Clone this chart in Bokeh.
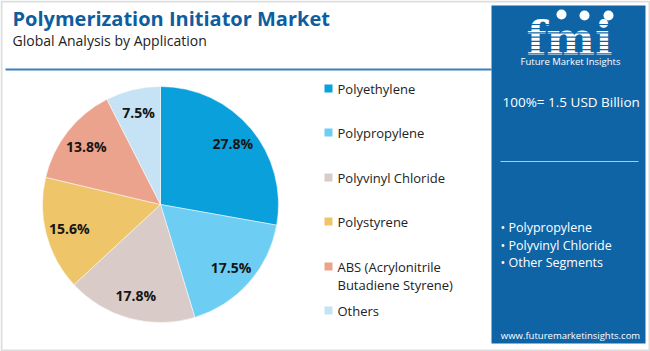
import math
from bokeh.plotting import figure
from bokeh.models import Range1d, ColumnDataSource
from bokeh.core.properties import value
from bokeh.embed import file_html
from bokeh.resources import INLINE

# ---- data ----
categories = ["Polyethylene", "Polypropylene", "Polyvinyl Chloride", "Polystyrene",
              "ABS (Acrylonitrile\nButadiene Styrene)", "Others"]
shares = [27.8, 17.5, 17.8, 15.6, 13.8, 7.5]
colors = ["#0AA0DC", "#6DCDF3", "#D8CBC8", "#EEC569", "#EBA38D", "#C6E2F5"]
title = "Polymerization Initiator Market"
subtitle = "Global Analysis by Application"
total_text = "100%= 1.5 USD Billion"
key_segments = ["Polypropylene", "Polyvinyl Chloride", "Other Segments"]
url = "www.futuremarketinsights.com"

W, H = 650, 351
def Y(y):
    return H - y

FONT = value("Open Sans")

p = figure(width=W, height=H, x_range=Range1d(0, W), y_range=Range1d(0, H),
           output_backend="svg", toolbar_location=None, min_border=0)
p.axis.visible = False
p.grid.visible = False
p.outline_line_color = None
p.background_fill_color = "white"
p.border_fill_color = "white"

# outer light border
p.quad(left=[1], right=[W - 1], bottom=[1], top=[H - 1], fill_color=None,
       line_color="#DDDDDD", line_width=2)

# title
p.text(x=[12], y=[Y(18)], text=[title], text_font=FONT, text_font_style="bold",
       text_font_size="20px", text_color="#0E5D9E", text_baseline="middle")
p.text(x=[12], y=[Y(40)], text=[subtitle], text_font=FONT,
       text_font_size="14px", text_color="#222222", text_baseline="middle")
p.segment(x0=[5], y0=[Y(69)], x1=[491], y1=[Y(69)], line_color="#3D80BE", line_width=2)

# pie
cx, cy, r = 160, Y(204), 118
total = sum(shares)
starts, ends, lx, ly, labels = [], [], [], [], []
cum = 0.0
for s in shares:
    a0 = math.pi / 2 - 2 * math.pi * cum / total
    a1 = math.pi / 2 - 2 * math.pi * (cum + s) / total
    starts.append(a0)
    ends.append(a1)
    mid = (a0 + a1) / 2
    lx.append(cx + 0.8 * r * math.cos(mid))
    ly.append(cy + 0.8 * r * math.sin(mid))
    labels.append(f"{s:.1f}%")
    cum += s
src = ColumnDataSource(dict(start=starts, end=ends, color=colors))
p.wedge(x=cx, y=cy, radius=r, start_angle="start", end_angle="end", direction="clock",
        fill_color="color", line_color="white", line_width=0.5, source=src)
p.text(x=lx, y=ly, text=labels, text_font=FONT, text_font_style="bold",
       text_font_size="14px", text_color="#151515", text_align="center",
       text_baseline="middle")

# legend
leg_y = [88, 132, 177, 221, 266, 310]
for name, col, yy in zip(categories, colors, leg_y):
    p.quad(left=[324], right=[332], bottom=[Y(yy + 4)], top=[Y(yy - 4)],
           fill_color=col, line_color=None)
    lines = name.split("\n")
    for i, ln in enumerate(lines):
        p.text(x=[337], y=[Y(yy + 18 * i)], text=[ln], text_font=FONT,
               text_font_size="13px", text_color="#222222", text_baseline="middle")

# right panel
PANEL = "#0F64A6"
p.quad(left=[491], right=[645], bottom=[Y(343)], top=[Y(5)], fill_color=PANEL,
       line_color=None)
# logo
p.text(x=[569], y=[Y(38)], text=["fmi"], text_font=value("DejaVu Serif"),
       text_font_style="bold", text_font_size="46px", text_color="white",
       text_align="center", text_baseline="middle")
for k in range(8):
    yy = 24 + k * 4.2
    p.segment(x0=[512], y0=[Y(yy)], x1=[628], y1=[Y(yy)], line_color=PANEL, line_width=1.2)
p.scatter(x=[561, 584, 608], y=[Y(14), Y(15), Y(15)], size=10, fill_color="white",
          line_color=None)
p.text(x=[570], y=[Y(61)], text=["Future Market Insights"], text_font=FONT,
       text_font_size="9.5px", text_color="white", text_align="center",
       text_baseline="middle")

p.text(x=[502], y=[Y(101)], text=[total_text], text_font=FONT,
       text_font_size="13.5px", text_color="white", text_baseline="middle")
p.segment(x0=[500], y0=[Y(161)], x1=[638], y1=[Y(161)], line_color="#AFC9E3", line_width=1)
for i, seg in enumerate(key_segments):
    p.text(x=[500], y=[Y(227 + 17.5 * i)], text=["\u2022 " + seg], text_font=FONT,
           text_font_size="12.5px", text_color="white", text_baseline="middle")
p.text(x=[570], y=[Y(335)], text=[url], text_font=FONT, text_font_size="9.5px",
       text_color="white", text_align="center", text_baseline="middle")

open("out.html", "w").write(file_html(p, INLINE))
